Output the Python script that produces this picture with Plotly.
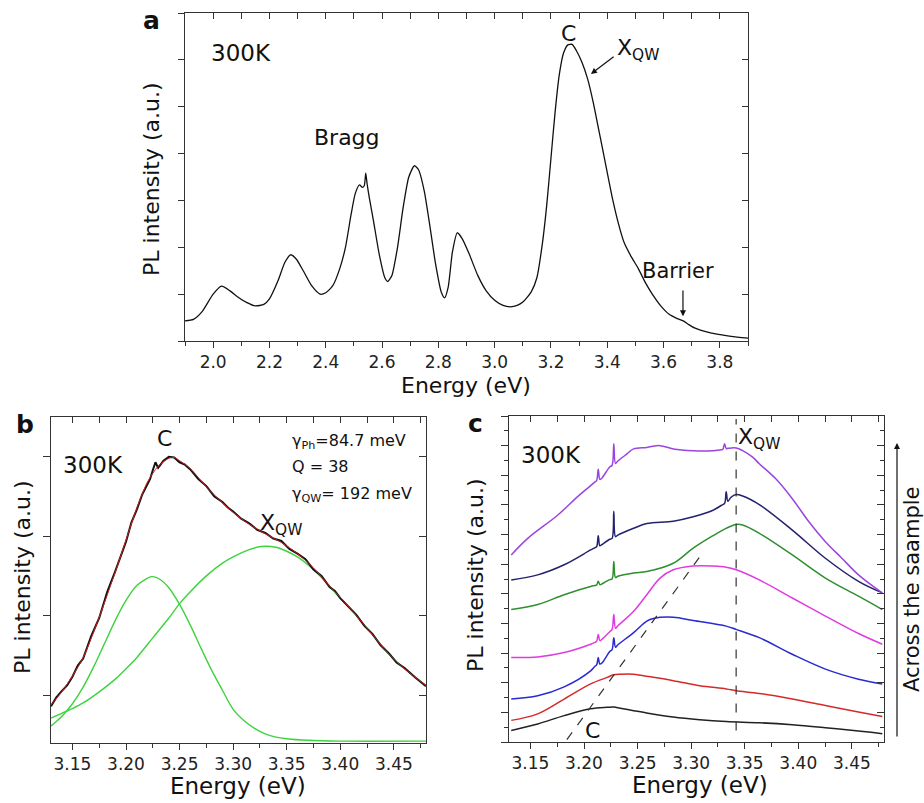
import plotly.graph_objects as go

FONT = "DejaVu Sans, Liberation Sans, Arial, sans-serif"
AX = "#333333"

# ---------------- panel a ----------------
a_energy = [1.90, 1.93, 1.96, 2.00, 2.03, 2.06, 2.09, 2.12, 2.15, 2.18, 2.20, 2.23, 2.255, 2.275, 2.295,
            2.32, 2.35, 2.38, 2.40, 2.425, 2.45, 2.47, 2.49, 2.505, 2.52, 2.53, 2.537, 2.542, 2.547, 2.555,
            2.57, 2.59, 2.61, 2.62, 2.635, 2.655, 2.675, 2.695, 2.715, 2.73, 2.75, 2.77, 2.79, 2.81, 2.822,
            2.835, 2.85, 2.867, 2.885, 2.91, 2.94, 2.97, 3.00, 3.03, 3.056, 3.08, 3.10, 3.13, 3.15, 3.17,
            3.185, 3.20, 3.215, 3.23, 3.245, 3.26, 3.275, 3.29, 3.31, 3.33, 3.35, 3.37, 3.39, 3.42, 3.44,
            3.46, 3.485, 3.51, 3.535, 3.56, 3.59, 3.62, 3.645, 3.67, 3.69, 3.71, 3.75, 3.785, 3.84, 3.90]
a_pl = [0.43, 0.46, 0.62, 1.00, 1.17, 1.07, 0.93, 0.82, 0.75, 0.78, 0.90, 1.28, 1.68, 1.84, 1.75,
        1.50, 1.18, 1.00, 1.03, 1.18, 1.55, 2.00, 2.70, 3.15, 3.33, 3.28, 3.32, 3.58, 3.35, 3.05,
        2.55, 1.85, 1.35, 1.27, 1.40, 2.00, 2.85, 3.50, 3.74, 3.65, 3.20, 2.45, 1.65, 1.05, 0.92,
        1.15, 1.90, 2.31, 2.18, 1.85, 1.40, 1.07, 0.87, 0.76, 0.73, 0.76, 0.83, 1.05, 1.35, 2.10,
        2.90, 3.90, 4.90, 5.70, 6.15, 6.32, 6.33, 6.20, 5.95, 5.60, 5.10, 4.50, 3.90, 3.00, 2.50,
        2.10, 1.80, 1.55, 1.25, 1.00, 0.75, 0.57, 0.49, 0.43, 0.35, 0.28, 0.20, 0.15, 0.10, 0.06]

# ---------------- panel b ----------------
b_data_energy = [3.13, 3.135, 3.14, 3.145, 3.15, 3.155, 3.16, 3.1675, 3.175, 3.1825, 3.19, 3.195, 3.20,
                 3.205, 3.21, 3.215, 3.22, 3.2225, 3.225, 3.2275, 3.23, 3.235, 3.24, 3.245, 3.25, 3.255,
                 3.26, 3.2675, 3.275, 3.2825, 3.29, 3.295, 3.30, 3.3075, 3.315, 3.3225, 3.33, 3.3375,
                 3.345, 3.3525, 3.36, 3.3675, 3.375, 3.3825, 3.39, 3.395, 3.40, 3.4075, 3.415, 3.4225,
                 3.43, 3.4375, 3.445, 3.4525, 3.46, 3.47, 3.48]
b_data_pl = [0.86, 0.97, 1.05, 1.12, 1.23, 1.37, 1.46, 1.74, 1.97, 2.30, 2.56, 2.74, 2.93,
             3.17, 3.33, 3.52, 3.66, 3.72, 3.83, 3.93, 3.86, 3.95, 4.00, 3.99, 3.93, 3.90,
             3.84, 3.72, 3.63, 3.50, 3.43, 3.36, 3.31, 3.22, 3.16, 3.08, 3.04, 2.97,
             2.94, 2.84, 2.78, 2.71, 2.58, 2.50, 2.36, 2.31, 2.22, 2.12, 2.01, 1.87,
             1.77, 1.63, 1.53, 1.41, 1.34, 1.22, 1.11]

b_fit_energy = [3.13, 3.14, 3.15, 3.16, 3.175, 3.19, 3.20, 3.21, 3.22, 3.23, 3.24, 3.245, 3.25, 3.26,
                3.275, 3.29, 3.30, 3.315, 3.33, 3.345, 3.36, 3.375, 3.39, 3.40, 3.415, 3.43, 3.445,
                3.46, 3.48]
b_fit_pl = [0.875, 1.04, 1.24, 1.47, 1.98, 2.55, 2.95, 3.35, 3.68, 3.88, 3.98, 3.99, 3.95, 3.85,
            3.62, 3.42, 3.30, 3.15, 3.03, 2.92, 2.78, 2.60, 2.37, 2.23, 2.00, 1.76, 1.52,
            1.33, 1.12]

b_c_energy = [3.13, 3.14, 3.15, 3.16, 3.17, 3.18, 3.19, 3.20, 3.21, 3.224, 3.23, 3.24, 3.25, 3.26,
              3.27, 3.28, 3.29, 3.30, 3.31, 3.32, 3.33, 3.34, 3.35, 3.37, 3.40, 3.48]
b_c_pl = [0.61, 0.73, 0.89, 1.10, 1.36, 1.65, 1.94, 2.19, 2.38, 2.49, 2.47, 2.35, 2.14, 1.88,
          1.59, 1.31, 1.06, 0.82, 0.68, 0.58, 0.51, 0.47, 0.45, 0.43, 0.42, 0.42]

b_qw_energy = [3.13, 3.14, 3.15, 3.16, 3.175, 3.19, 3.20, 3.21, 3.225, 3.24, 3.25, 3.26, 3.275, 3.29,
               3.30, 3.315, 3.326, 3.34, 3.35, 3.36, 3.375, 3.39, 3.40, 3.415, 3.43, 3.445, 3.46, 3.48]
b_qw_pl = [0.71, 0.77, 0.83, 0.90, 1.04, 1.20, 1.33, 1.47, 1.72, 1.97, 2.15, 2.30, 2.50, 2.66,
           2.74, 2.83, 2.87, 2.86, 2.81, 2.74, 2.58, 2.37, 2.22, 2.00, 1.76, 1.52, 1.33, 1.12]

# ---------------- panel c ----------------
c_black_energy = [3.1321, 3.1568, 3.1815, 3.2062, 3.2216, 3.2278, 3.2340, 3.2586, 3.2833, 3.3080,
                  3.3327, 3.3636, 3.3944, 3.4253, 3.4562, 3.4784]
c_black_pl = [0.39, 0.61, 0.89, 1.12, 1.17, 1.18, 1.14, 0.98, 0.84, 0.75, 0.69, 0.65, 0.58, 0.48, 0.37, 0.28]

c_red_energy = [3.1321, 3.1568, 3.1815, 3.2062, 3.2216, 3.2278, 3.2340, 3.2463, 3.2586, 3.2833,
                3.3080, 3.3327, 3.3420, 3.3636, 3.3944, 3.4253, 3.4562, 3.4784]
c_red_pl = [0.73, 0.95, 1.45, 1.96, 2.18, 2.27, 2.29, 2.29, 2.22, 2.07, 1.90, 1.79, 1.73, 1.64,
            1.45, 1.23, 1.01, 0.86]

c_blue_energy = [3.1321, 3.1568, 3.1815, 3.2062, 3.2100, 3.2118, 3.2133, 3.2148, 3.2166, 3.2240,
                 3.2262, 3.2278, 3.2294, 3.2316, 3.2463, 3.2586, 3.2648, 3.2833, 3.3019, 3.3327,
                 3.3420, 3.3636, 3.3944, 3.4253, 3.4562, 3.4784]
c_blue_pl = [1.45, 1.56, 1.86, 2.40, 2.55, 2.60, 2.85, 2.63, 2.66, 3.05, 3.12, 3.52, 3.20, 3.28,
             3.69, 4.08, 4.17, 4.21, 4.10, 3.91, 3.80, 3.52, 2.96, 2.46, 2.12, 1.96]

c_magenta_energy = [3.1321, 3.1568, 3.1815, 3.2062, 3.2100, 3.2118, 3.2133, 3.2148, 3.2166, 3.2240,
                    3.2262, 3.2278, 3.2294, 3.2316, 3.2463, 3.2586, 3.2710, 3.2833, 3.3019, 3.3204,
                    3.3327, 3.3420, 3.3636, 3.3944, 3.4253, 3.4562, 3.4784]
c_magenta_pl = [2.85, 2.87, 3.02, 3.30, 3.36, 3.40, 3.63, 3.42, 3.46, 3.72, 3.80, 4.30, 3.84, 3.92,
                4.41, 4.97, 5.53, 5.81, 5.94, 5.94, 5.90, 5.81, 5.47, 4.86, 4.25, 3.66, 3.30]

c_green_energy = [3.1321, 3.1568, 3.1815, 3.2062, 3.2100, 3.2118, 3.2133, 3.2148, 3.2166, 3.2240,
                  3.2262, 3.2278, 3.2294, 3.2316, 3.2463, 3.2586, 3.2833, 3.3019, 3.3204, 3.3327,
                  3.3420, 3.3481, 3.3636, 3.3944, 3.4253, 3.4562, 3.4784]
c_green_pl = [4.47, 4.64, 4.97, 5.25, 5.28, 5.30, 5.42, 5.31, 5.33, 5.48, 5.50, 6.09, 5.55, 5.59,
              5.70, 5.75, 6.03, 6.54, 6.96, 7.21, 7.34, 7.32, 7.04, 6.31, 5.53, 4.92, 4.47]

c_navy_energy = [3.1321, 3.1568, 3.1815, 3.2062, 3.2100, 3.2118, 3.2133, 3.2148, 3.2166, 3.2240,
                 3.2262, 3.2278, 3.2294, 3.2316, 3.2463, 3.2586, 3.2833, 3.3019, 3.3204, 3.3280,
                 3.3312, 3.3327, 3.3343, 3.3370, 3.3420, 3.3481, 3.3636, 3.3944, 3.4253, 3.4562,
                 3.4784]
c_navy_pl = [5.47, 5.64, 5.98, 6.48, 6.55, 6.59, 6.96, 6.62, 6.66, 6.84, 6.87, 7.79, 6.93, 6.98,
             7.21, 7.37, 7.45, 7.60, 7.82, 7.98, 8.05, 8.44, 8.12, 8.25, 8.35, 8.30, 8.01, 7.15,
             6.20, 5.42, 5.03]

c_violet_energy = [3.1321, 3.1475, 3.1753, 3.1938, 3.2062, 3.2100, 3.2118, 3.2133, 3.2148, 3.2166,
                   3.2240, 3.2262, 3.2278, 3.2294, 3.2316, 3.2401, 3.2463, 3.2586, 3.2710, 3.2833,
                   3.3019, 3.3204, 3.3280, 3.3296, 3.3312, 3.3328, 3.3345, 3.3420, 3.3481, 3.3574,
                   3.3636, 3.3790, 3.3944, 3.4099, 3.4253, 3.4407, 3.4562, 3.4784]
c_violet_pl = [6.31, 6.87, 7.65, 8.27, 8.65, 8.77, 8.82, 9.20, 8.86, 8.90, 9.28, 9.33, 10.06, 9.40,
               9.48, 9.72, 9.89, 9.94, 10.0, 9.89, 9.83, 9.83, 9.86, 9.88, 10.06, 9.90, 9.91,
               9.92, 9.83, 9.61, 9.39, 8.88, 8.21, 7.43, 6.76, 6.20, 5.64, 5.03]

c_xqw_line_energy = [3.342, 3.342]
c_xqw_line_pl = [0.39, 10.9]
c_c_line_energy = [3.184, 3.3105]
c_c_line_pl = [0.08, 6.37]

fig = go.Figure()

# panel a
fig.add_trace(go.Scatter(x=a_energy, y=a_pl, mode="lines", line=dict(color="#111111", width=1.3, shape="spline", smoothing=0.6),
                         xaxis="x", yaxis="y"))

# panel b
fig.add_trace(go.Scatter(x=b_c_energy, y=b_c_pl, mode="lines", line=dict(color="#3ed23e", width=1.4, shape="spline", smoothing=0.8),
                         xaxis="x2", yaxis="y2"))
fig.add_trace(go.Scatter(x=b_qw_energy, y=b_qw_pl, mode="lines", line=dict(color="#3ed23e", width=1.4, shape="spline", smoothing=0.8),
                         xaxis="x2", yaxis="y2"))
fig.add_trace(go.Scatter(x=b_data_energy, y=b_data_pl, mode="lines", line=dict(color="#111111", width=2.0),
                         xaxis="x2", yaxis="y2"))
fig.add_trace(go.Scatter(x=b_fit_energy, y=b_fit_pl, mode="lines", line=dict(color="#cc2020", width=1.0, shape="spline", smoothing=0.8),
                         xaxis="x2", yaxis="y2"))

# panel c
c_series = [
    (c_black_energy, c_black_pl, "#222222"),
    (c_red_energy, c_red_pl, "#d42a2a"),
    (c_blue_energy, c_blue_pl, "#2a2ad0"),
    (c_magenta_energy, c_magenta_pl, "#e03ae0"),
    (c_green_energy, c_green_pl, "#2f8f2f"),
    (c_navy_energy, c_navy_pl, "#22226e"),
    (c_violet_energy, c_violet_pl, "#9b45e0"),
]
for xs, ys, col in c_series:
    fig.add_trace(go.Scatter(x=xs, y=ys, mode="lines", line=dict(color=col, width=1.5, shape="spline", smoothing=1.0),
                             xaxis="x3", yaxis="y3"))
fig.add_trace(go.Scatter(x=c_xqw_line_energy, y=c_xqw_line_pl, mode="lines", line=dict(color="#333333", width=1.2, dash="dash"),
                         xaxis="x3", yaxis="y3"))
fig.add_trace(go.Scatter(x=c_c_line_energy, y=c_c_line_pl, mode="lines", line=dict(color="#333333", width=1.2, dash="dash"),
                         xaxis="x3", yaxis="y3"))

TICKFONT = dict(family=FONT, size=17, color="#222222")


def base_axis(domain, rng, dtick, tick0, minor_dtick, fmt, anchor, labels=True, ticklen=6):
    d = dict(domain=domain, range=rng, dtick=dtick, tick0=tick0, ticks="outside", ticklen=ticklen,
             tickwidth=1, tickcolor=AX, showline=True, linecolor=AX, linewidth=1, mirror=True,
             showgrid=False, zeroline=False, showticklabels=labels, tickfont=TICKFONT, anchor=anchor)
    if fmt:
        d["tickformat"] = fmt
    if minor_dtick:
        d["minor"] = dict(dtick=minor_dtick, ticks="outside", ticklen=4, tickwidth=1, tickcolor=AX, showgrid=False)
    return d


def overlay_axis(over, anchor, side, rng, dtick, tick0, minor_dtick, ticklen=6):
    d = dict(overlaying=over, anchor=anchor, side=side, range=rng, dtick=dtick, tick0=tick0,
             ticks="inside", ticklen=ticklen, tickwidth=1, tickcolor=AX, showline=False,
             showgrid=False, zeroline=False, showticklabels=False)
    if minor_dtick:
        d["minor"] = dict(dtick=minor_dtick, ticks="inside", ticklen=4, tickwidth=1, tickcolor=AX, showgrid=False)
    return d


W, H = 924, 803
def px(x):
    return x / W
def py(y):
    return 1 - y / H

a_xr, a_yr = [1.9, 3.9], [0, 7]
b_xr, b_yr = [3.13, 3.48], [0.396, 4.5]
c_xr, c_yr = [3.13, 3.48], [0, 11]

layout = dict(
    width=W, height=H, margin=dict(l=0, r=0, t=0, b=0),
    paper_bgcolor="white", plot_bgcolor="white", showlegend=False,
    font=dict(family=FONT, color="#222222"),
    xaxis=base_axis([px(185), px(748)], a_xr, 0.2, 2.0, 0.1, ".1f", "y"),
    yaxis=base_axis([py(341), py(13)], a_yr, 1, 0, None, None, "x", labels=False),
    xaxis2=base_axis([px(51), px(426)], b_xr, 0.05, 3.15, 0.025, ".2f", "y2"),
    yaxis2=base_axis([py(743), py(417)], b_yr, 1, 1, None, None, "x2", labels=False, ticklen=7),
    xaxis3=base_axis([px(509), px(884)], c_xr, 0.05, 3.15, 0.025, ".2f", "y3"),
    yaxis3=base_axis([py(742), py(416)], c_yr, 1, 0, 0.5, None, "x3", labels=False, ticklen=7),
    xaxis4=overlay_axis("x", "y", "top", a_xr, 0.1, 2.0, None),
    yaxis4=overlay_axis("y", "x", "right", a_yr, 1, 0, None),
    xaxis5=overlay_axis("x2", "y2", "top", b_xr, 0.025, 3.15, None),
    yaxis5=overlay_axis("y2", "x2", "right", b_yr, 1, 1, None, ticklen=7),
    xaxis6=overlay_axis("x3", "y3", "top", c_xr, 0.025, 3.15, None),
    yaxis6=overlay_axis("y3", "x3", "right", c_yr, 1, 0, 0.5, ticklen=7),
)
fig.update_layout(**layout)

# invisible anchors so the mirrored inside-tick axes are drawn
for xa, ya, xr, yr in [("x4", "y4", a_xr, a_yr), ("x5", "y5", b_xr, b_yr), ("x6", "y6", c_xr, c_yr)]:
    fig.add_trace(go.Scatter(x=[xr[0]], y=[yr[0]], mode="markers", marker=dict(opacity=0),
                             xaxis=xa, yaxis=ya, hoverinfo="skip"))

ann = []
def txt(x, y, text, xref="paper", yref="paper", size=22, xanchor="center", yanchor="middle", bold=False, angle=0):
    ann.append(dict(x=x, y=y, xref=xref, yref=yref, text=("<b>%s</b>" % text) if bold else text,
                    showarrow=False, xanchor=xanchor, yanchor=yanchor, textangle=angle, borderpad=0,
                    font=dict(family=FONT, size=size, color="#111111")))

# panel letters
txt(px(151), py(21), "a", size=25, bold=True)
txt(px(25), py(424), "b", size=25, bold=True)
txt(px(475), py(423), "c", size=25, bold=True)

# axis titles
txt(px(466), py(386), "Energy (eV)", size=22)
txt(px(238), py(786), "Energy (eV)", size=23)
txt(px(700), py(785), "Energy (eV)", size=23)
txt(px(151), py(180), "PL intensity (a.u.)", size=22, angle=-90)
txt(px(22), py(578), "PL intensity (a.u.)", size=22, angle=-90)
txt(px(475), py(576), "PL intensity (a.u.)", size=22, angle=-90)

# panel a labels
txt(2.10, 6.15, "300K", "x", "y", size=23)
txt(2.475, 4.34, "Bragg", "x", "y", size=22)
txt(3.264, 6.56, "C", "x", "y", size=22)
txt(3.43, 6.22, "X<sub>QW</sub>", "x", "y", size=22, xanchor="left")
txt(3.651, 1.50, "Barrier", "x", "y", size=21)
ann.append(dict(x=3.342, y=5.70, ax=3.428, ay=6.09, xref="x", yref="y", axref="x", ayref="y",
                showarrow=True, arrowhead=2, arrowsize=1, arrowwidth=1.2, arrowcolor="#111111", text=""))
ann.append(dict(x=3.669, y=0.53, ax=3.669, ay=1.11, xref="x", yref="y", axref="x", ayref="y",
                showarrow=True, arrowhead=2, arrowsize=1, arrowwidth=1.2, arrowcolor="#111111", text=""))

# panel b labels
txt(3.236, 4.23, "C", "x2", "y2", size=22)
txt(3.1696, 3.90, "300K", "x2", "y2", size=23)
txt(3.354, 4.19, "γ<sub>Ph</sub>=84.7 meV", "x2", "y2", size=16, xanchor="left")
txt(3.354, 3.875, "Q = 38", "x2", "y2", size=16, xanchor="left")
txt(3.354, 3.52, "γ<sub>QW</sub>= 192 meV", "x2", "y2", size=16, xanchor="left")
txt(3.324, 3.15, "X<sub>QW</sub>", "x2", "y2", size=22, xanchor="left")

# panel c labels
txt(3.169, 9.70, "300K", "x3", "y3", size=23)
txt(3.343, 10.25, "X<sub>QW</sub>", "x3", "y3", size=22, xanchor="left")
txt(3.208, 0.40, "C", "x3", "y3", size=22)
txt(px(912), py(590), "Across the saample", size=21, angle=-90)
ann.append(dict(x=px(897), y=py(443), ax=0, ay=295, xref="paper", yref="paper",
                axref="pixel", ayref="pixel", showarrow=True, arrowhead=2, arrowsize=1,
                arrowwidth=1.2, arrowcolor="#111111", text=""))

fig.update_layout(annotations=ann)
fig.write_html("out.html", config={"displayModeBar": False},
               post_script="document.body.style.margin='0px';document.body.style.overflow='hidden';")
